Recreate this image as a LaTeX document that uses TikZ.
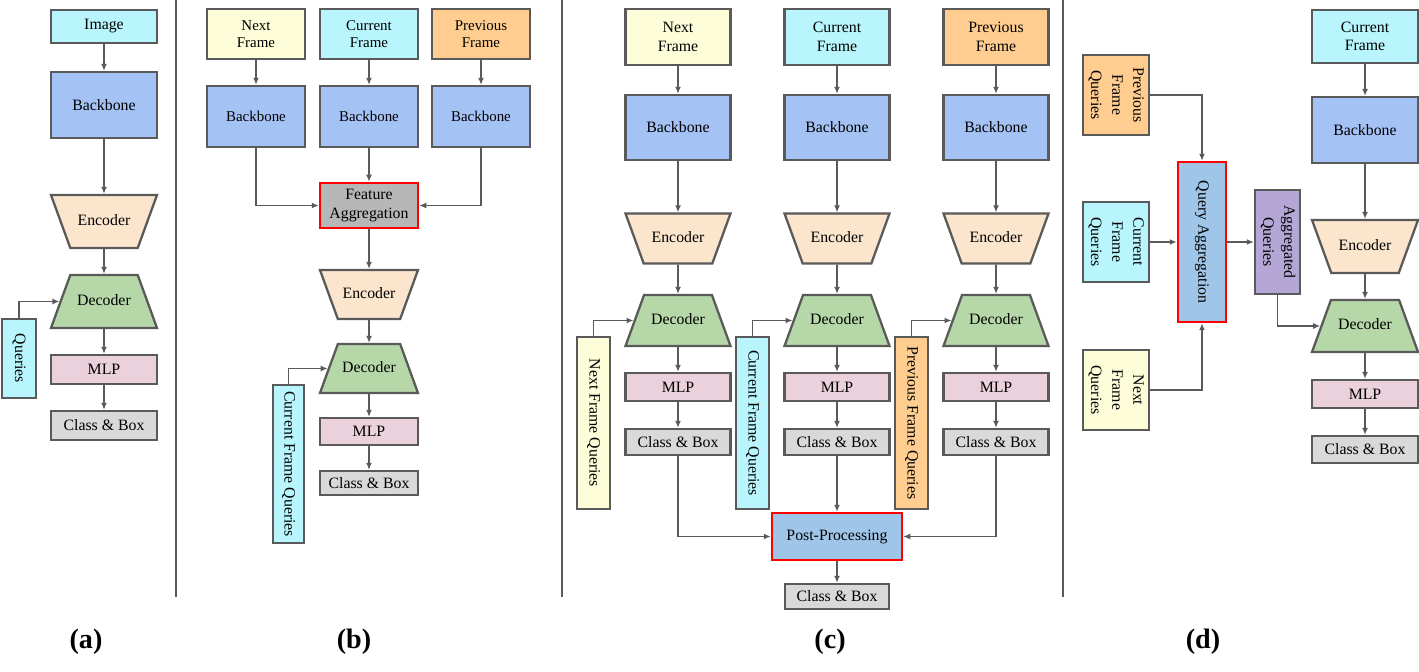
\documentclass[tikz,border=0pt]{standalone}
\usepackage{fontspec}
\setmainfont{Liberation Serif}
\usepackage{tikz}
\usetikzlibrary{positioning, arrows.meta, shapes.geometric}

\definecolor{edgegray}{HTML}{5A5A5A}
\definecolor{curcyan}{HTML}{B8F5FC}
\definecolor{nextyellow}{HTML}{FDFED9}
\definecolor{prevorange}{HTML}{FFCD90}
\definecolor{bbblue}{HTML}{A4C2F4}
\definecolor{encfill}{HTML}{FCE5CD}
\definecolor{decfill}{HTML}{B6D7A8}
\definecolor{mlpfill}{HTML}{EAD1DC}
\definecolor{cbfill}{HTML}{D9D9D9}
\definecolor{fagray}{HTML}{B7B7B7}
\definecolor{ppblue}{HTML}{9FC5E8}
\definecolor{aqpurple}{HTML}{B4A7D6}

\tikzset{
    blk/.style={draw=edgegray, line width=1.3pt, align=center, inner sep=1pt,
        font=\fontsize{9}{10.5}\selectfont},
    bbone/.style={blk, fill=bbblue},
    % trapezia get their height from inner ysep, so the slant stays at 70 degrees
    trap/.style={blk, trapezium, trapezium left angle=70, trapezium right angle=70,
        trapezium stretches body=true, text height=6.5pt, text depth=2pt, inner ysep=#1},
    encblk/.style={trap=#1, fill=encfill, shape border rotate=180},
    decblk/.style={trap=#1, fill=decfill},
    mlpblk/.style={blk, fill=mlpfill},
    cbblk/.style={blk, fill=cbfill},
    hot/.style={draw=red, line width=1.4pt},
    arr/.style={draw=edgegray, line width=1pt, -{Latex[length=4pt,width=3.4pt]}},
    sepline/.style={draw=edgegray, line width=1.2pt},
    lbl/.style={font=\fontsize{16}{18}\selectfont\bfseries},
    small/.style={font=\fontsize{8.5}{10}\selectfont}
}

\begin{document}
\begin{tikzpicture}[x=0.02cm, y=-0.02cm]
    \useasboundingbox (0,0) rectangle (1419,672);

    % --- Panel (a): single image ---
    \def\wpa{2.12cm}
    \node[blk, fill=curcyan, minimum width=\wpa, minimum height=0.66cm] (aimg) at (104,26.5) {Image};
    \node[bbone, minimum width=\wpa, minimum height=1.32cm] (abb) at (104,105) {Backbone};
    \node[encblk=0.38cm, minimum width=\wpa] (aenc) at (104,221.5) {Encoder};
    \node[decblk=0.38cm, minimum width=\wpa] (adec) at (104,301.5) {Decoder};
    \node[mlpblk, minimum width=\wpa, minimum height=0.58cm] (amlp) at (104,369.5) {MLP};
    \node[cbblk, minimum width=\wpa, minimum height=0.58cm] (acb) at (104,425.5) {Class \& Box};
    \node[blk, fill=curcyan, minimum width=0.68cm, minimum height=1.58cm] (aq) at (19,358.5) {\rotatebox{-90}{Queries}};
    \draw[arr] (aimg) -- (abb);
    \draw[arr] (abb) -- (aenc);
    \draw[arr] (aenc) -- (adec);
    \draw[arr] (adec) -- (amlp);
    \draw[arr] (amlp) -- (acb);
    \draw[arr] (aq.north) |- (adec.left side);
    \draw[sepline] (176,0) -- (176,597);

    % --- Panel (b): feature aggregation ---
    \begin{scope}[every node/.append style={small}]
    \def\wpb{1.96cm}
    \foreach \x/\n/\c/\t in {256/n/nextyellow/Next, 369/c/curcyan/Current, 481/p/prevorange/Previous} {
        \node[blk, small, fill=\c, minimum width=\wpb, minimum height=1cm] (bfr\n) at (\x,34) {\t\\Frame};
        \node[bbone, small, minimum width=\wpb, minimum height=1.22cm] (bbb\n) at (\x,116.5) {Backbone};
        \draw[arr] (bfr\n) -- (bbb\n);
    }
    \node[blk, hot, fill=fagray, minimum width=\wpb, minimum height=0.9cm] (bfa) at (369,205.5) {Feature\\Aggregation};
    \node[encblk=0.34cm, minimum width=\wpb] (benc) at (369,294.5) {Encoder};
    \node[decblk=0.34cm, minimum width=\wpb] (bdec) at (369,368.5) {Decoder};
    \node[mlpblk, minimum width=\wpb, minimum height=0.54cm] (bmlp) at (369,431.5) {MLP};
    \node[cbblk, minimum width=\wpb, minimum height=0.48cm] (bcb) at (369,483) {Class \& Box};
    \node[blk, fill=curcyan, minimum width=0.62cm, minimum height=3.16cm] (bq) at (288.5,464) {\rotatebox{-90}{Current Frame Queries}};
    \draw[arr] (bbbn.south) |- (bfa.west);
    \draw[arr] (bbbc) -- (bfa);
    \draw[arr] (bbbp.south) |- (bfa.east);
    \draw[arr] (bfa) -- (benc);
    \draw[arr] (benc) -- (bdec);
    \draw[arr] (bdec) -- (bmlp);
    \draw[arr] (bmlp) -- (bcb);
    \draw[arr] (bq.north) |- (bdec.left side);
    \end{scope}
    \draw[sepline] (562,0) -- (562,597);

    % --- Panel (c): post-processing ---
    \def\wpc{2.1cm}
    \foreach \x/\n/\c/\t in {678/n/nextyellow/Next, 837/c/curcyan/Current, 996/p/prevorange/Previous} {
        \node[blk, fill=\c, minimum width=\wpc, minimum height=1.12cm] (cfr\n) at (\x,37) {\t\\Frame};
        \node[bbone, minimum width=\wpc, minimum height=1.3cm] (cbb\n) at (\x,127.5) {Backbone};
        \node[encblk=0.35cm, minimum width=\wpc] (cenc\n) at (\x,238.5) {Encoder};
        \node[decblk=0.36cm, minimum width=\wpc] (cdec\n) at (\x,320.5) {Decoder};
        \node[mlpblk, minimum width=\wpc, minimum height=0.56cm] (cmlp\n) at (\x,387) {MLP};
        \node[cbblk, minimum width=\wpc, minimum height=0.52cm] (ccb\n) at (\x,442) {Class \& Box};
        \node[blk, fill=\c, minimum width=0.66cm, minimum height=3.44cm] (cq\n) at ({\x-84.5},423) {\rotatebox{-90}{\t{} Frame Queries}};
        \draw[arr] (cfr\n) -- (cbb\n);
        \draw[arr] (cbb\n) -- (cenc\n);
        \draw[arr] (cenc\n) -- (cdec\n);
        \draw[arr] (cdec\n) -- (cmlp\n);
        \draw[arr] (cmlp\n) -- (ccb\n);
        \draw[arr] (cq\n.north) |- (cdec\n.left side);
    }
    \node[blk, hot, fill=ppblue, minimum width=2.6cm, minimum height=0.94cm] (cpp) at (837,536.5) {Post-Processing};
    \node[cbblk, minimum width=2.08cm, minimum height=0.5cm] (cfin) at (837,596.5) {Class \& Box};
    \draw[arr] (ccbn.south) |- (cpp.west);
    \draw[arr] (ccbc) -- (cpp);
    \draw[arr] (ccbp.south) |- (cpp.east);
    \draw[arr] (cpp) -- (cfin);
    \draw[sepline] (1063,0) -- (1063,597);

    % --- Panel (d): query aggregation ---
    \def\wpd{2.12cm}
    \node[blk, fill=curcyan, minimum width=\wpd, minimum height=1.06cm] (dfr) at (1365,36.5) {Current\\Frame};
    \node[bbone, minimum width=\wpd, minimum height=1.32cm] (dbb) at (1365,130) {Backbone};
    \node[encblk=0.38cm, minimum width=\wpd] (denc) at (1365,246.5) {Encoder};
    \node[decblk=0.37cm, minimum width=\wpd] (ddec) at (1365,326) {Decoder};
    \node[mlpblk, minimum width=\wpd, minimum height=0.56cm] (dmlp) at (1365,394) {MLP};
    \node[cbblk, minimum width=\wpd, minimum height=0.54cm] (dcb) at (1365,449.5) {Class \& Box};
    \foreach \y/\n/\c/\t in {95/p/prevorange/Previous, 242/c/curcyan/Current, 390/n/nextyellow/Next}
        \node[blk, fill=\c, minimum width=1.32cm, minimum height=1.6cm] (dq\n) at (1116,\y)
            {\rotatebox{-90}{\begin{tabular}{@{}c@{}}\t\\[1.5pt]Frame\\[1.5pt]Queries\end{tabular}}};
    \node[blk, hot, fill=ppblue, minimum width=0.96cm, minimum height=3.2cm] (dqa) at (1202,242) {\rotatebox{-90}{Query Aggregation}};
    \node[blk, fill=aqpurple, minimum width=0.9cm, minimum height=2.08cm] (daq) at (1277.5,242)
        {\rotatebox{-90}{\begin{tabular}{@{}c@{}}Aggregated\\[1.5pt]Queries\end{tabular}}};
    \draw[arr] (dfr) -- (dbb);
    \draw[arr] (dbb) -- (denc);
    \draw[arr] (denc) -- (ddec);
    \draw[arr] (ddec) -- (dmlp);
    \draw[arr] (dmlp) -- (dcb);
    \draw[arr] (dqp.east) -| (dqa.north);
    \draw[arr] (dqc) -- (dqa);
    \draw[arr] (dqn.east) -| (dqa.south);
    \draw[arr] (dqa) -- (daq);
    \draw[arr] (daq.south) |- (ddec.left side);

    % panel labels
    \node[lbl] (la) at (86,642) {(a)};
    \node[lbl] (lb) at (354,642) {(b)};
    \node[lbl] (lc) at (830,642) {(c)};
    \node[lbl] (ld) at (1203,642) {(d)};
\end{tikzpicture}
\end{document}
